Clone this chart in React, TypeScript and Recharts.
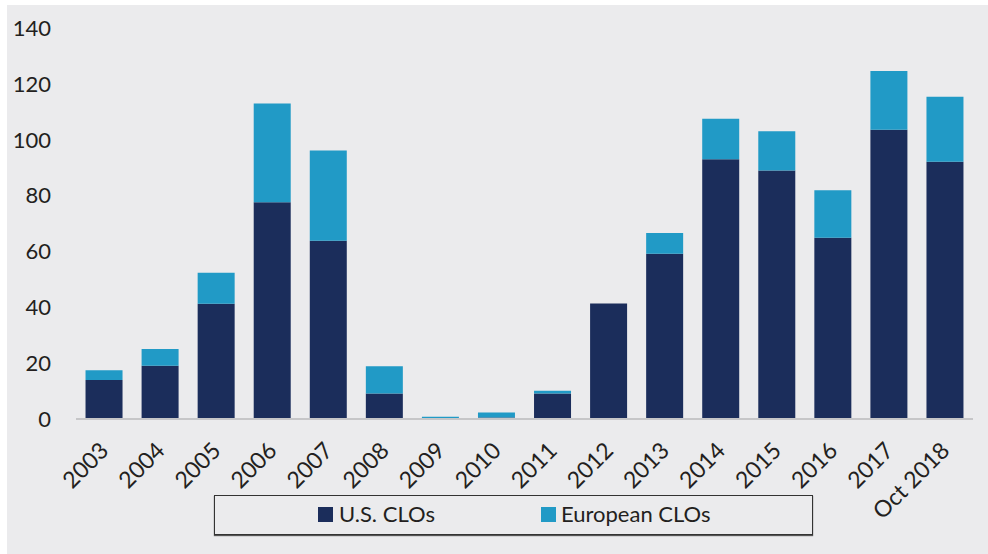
import React from "react";
import { BarChart, Bar, XAxis, YAxis, Legend } from "recharts";

const categories = ["2003", "2004", "2005", "2006", "2007", "2008", "2009", "2010", "2011", "2012", "2013", "2014", "2015", "2016", "2017", "Oct 2018"];
const usCLOs = [14.0, 19.1, 41.3, 77.6, 63.8, 9.1, 0.3, 0.5, 9.1, 41.4, 59.2, 93.0, 89.0, 64.9, 103.6, 92.1];
const europeanCLOs = [3.5, 6.0, 11.1, 35.4, 32.3, 9.8, 0.5, 1.8, 1.0, 0, 7.4, 14.5, 14.0, 17.0, 21.0, 23.3];
const yTicks = [0, 20, 40, 60, 80, 100, 120, 140];

const data = categories.map((c, i) => ({ name: c, us: usCLOs[i], eu: europeanCLOs[i] }));

const NAVY = "#1b2d5b";
const BLUE = "#219ac6";
const FONT = "Lato, 'Open Sans', sans-serif";

const XTick = (props: any) => {
  const { x, y, payload } = props;
  const ax = x + 6;
  const ay = y + 25;
  return (
    <text x={ax} y={ay} textAnchor="end" fill="#231f20" fontSize={23} fontFamily={FONT} transform={`rotate(-45, ${ax}, ${ay})`}>
      {payload.value}
    </text>
  );
};

const LegendBox = () => (
  <div
    style={{
      boxSizing: "border-box",
      width: 599,
      height: 40,
      border: "1.5px solid #333",
      boxShadow: "0 1px 1px #555",
      fontFamily: FONT,
      fontSize: 22,
      color: "#231f20",
    }}
  >
    <div style={{ position: "absolute", left: 104, top: 12, width: 15, height: 15, background: NAVY }} />
    <div style={{ position: "absolute", left: 125, top: 5, lineHeight: "28px" }}>U.S. CLOs</div>
    <div style={{ position: "absolute", left: 327, top: 12, width: 15, height: 15, background: BLUE }} />
    <div style={{ position: "absolute", left: 347, top: 5, lineHeight: "28px" }}>European CLOs</div>
  </div>
);

export default function App() {
  return (
    <div style={{ position: "absolute", left: 0, top: 0, width: 988, height: 554, background: "#ffffff" }}>
      <div style={{ position: "absolute", left: 7, top: 5, width: 981, height: 549, background: "#ebebed" }}>
        <BarChart
          width={981}
          height={549}
          data={data}
          margin={{ top: 23, right: 15, bottom: 60, left: 0 }}
          barCategoryGap="17%"
        >
          <XAxis
            dataKey="name"
            interval={0}
            height={75}
            tickLine={false}
            axisLine={{ stroke: "#c6c6c8", strokeWidth: 2 }}
            tick={<XTick />}
          />
          <YAxis
            width={69}
            domain={[0, 140]}
            ticks={yTicks}
            axisLine={false}
            tickLine={false}
            tickSize={0}
            tickMargin={25}
            tick={{ fill: "#231f20", fontSize: 22, fontFamily: FONT }}
          />
          <Legend
            layout="horizontal"
            verticalAlign="middle"
            align="center"
            content={<LegendBox />}
            wrapperStyle={{ left: 207, top: 490, width: 599, height: 40 }}
          />
          <Bar dataKey="us" name="U.S. CLOs" stackId="a" fill={NAVY} isAnimationActive={false} />
          <Bar dataKey="eu" name="European CLOs" stackId="a" fill={BLUE} isAnimationActive={false} />
        </BarChart>
      </div>
    </div>
  );
}
